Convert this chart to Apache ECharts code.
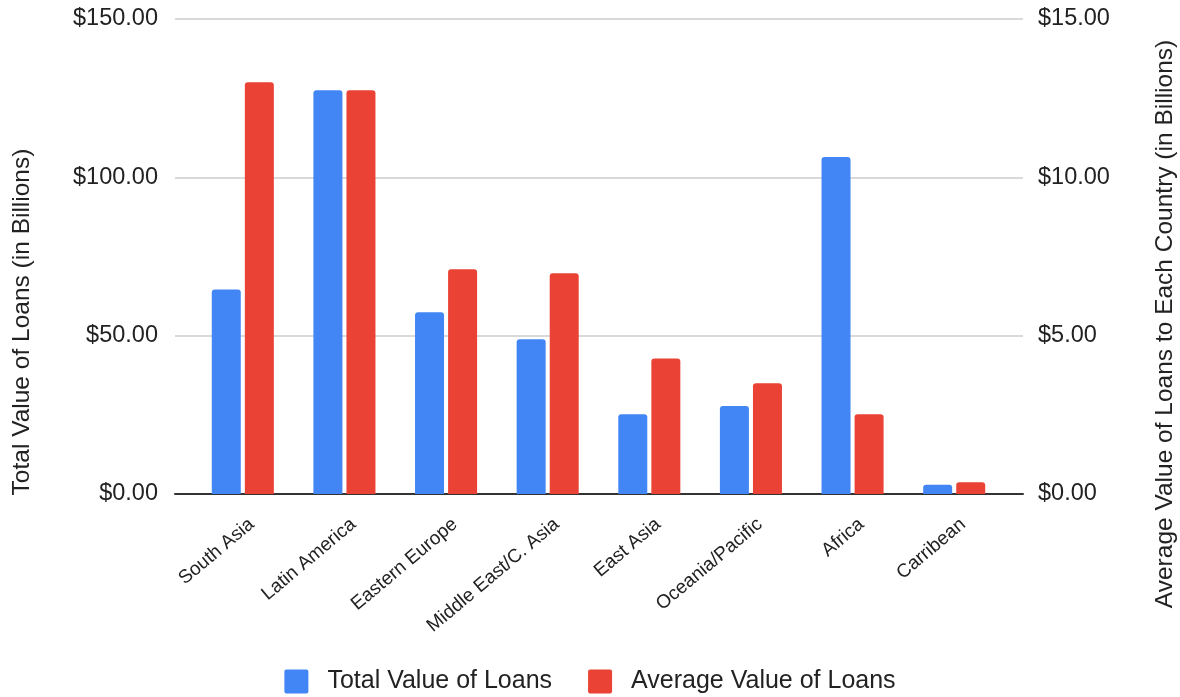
<!DOCTYPE html>
<html>
<head>
<meta charset="utf-8">
<script src="https://cdn.jsdelivr.net/npm/echarts@6/dist/echarts.min.js"></script>
<style>
  html, body { margin: 0; padding: 0; background: #fff; }
  #chart { width: 1180px; height: 697px; }
</style>
</head>
<body>
<div id="chart"></div>
<script>
// Regions and loan values (billions of dollars)
const regions = ['South Asia', 'Latin America', 'Eastern Europe', 'Middle East/C. Asia',
                 'East Asia', 'Oceania/Pacific', 'Africa', 'Carribean'];
const totalValue = [64.6, 127.5, 57.4, 48.9, 25.2, 27.8, 106.4, 2.9];
const averageValue = [13.0, 12.75, 7.1, 6.97, 4.28, 3.5, 2.52, 0.37];

const leftTicks = { min: 0, max: 150, interval: 50 };
const rightTicks = { min: 0, max: 15, interval: 5 };

const FONT = "'Liberation Sans', Arial, sans-serif";
const BLUE = '#4285F4';
const RED = '#EA4335';
const money = v => '$' + Number(v).toFixed(2);
// square legend swatch with slightly softened corners
const SWATCH = 'path://M2,0H22A2,2 0 0 1 24,2V22A2,2 0 0 1 22,24H2A2,2 0 0 1 0,22V2A2,2 0 0 1 2,0Z';

const TOP = 19, BOTTOM = 203;

const chart = echarts.init(document.getElementById('chart'));
chart.setOption({
  animation: false,
  textStyle: { fontFamily: FONT },
  grid: [
    // frame: gridlines, value labels, baseline
    { left: 175, right: 157, top: TOP, bottom: BOTTOM, containLabel: false },
    // bars
    { left: 192, right: 175, top: TOP, bottom: BOTTOM, containLabel: false },
    // category labels
    { left: 201, right: 166, top: TOP, bottom: BOTTOM, containLabel: false }
  ],
  legend: {
    top: 664,
    left: 'center',
    itemWidth: 24,
    itemHeight: 24,
    itemGap: 36,
    icon: SWATCH,
    textStyle: { fontSize: 25, color: '#222', padding: [0, 0, 0, 14], fontFamily: FONT },
    data: ['Total Value of Loans', 'Average Value of Loans']
  },
  xAxis: [
    { gridIndex: 0, type: 'value', min: 0, max: 1, show: true,
      axisLine: { show: true, onZero: false, lineStyle: { color: '#333', width: 2 } },
      axisTick: { show: false }, axisLabel: { show: false }, splitLine: { show: false } },
    { gridIndex: 1, type: 'category', data: regions,
      axisLine: { show: false }, axisTick: { show: false }, axisLabel: { show: false } },
    { gridIndex: 2, type: 'category', data: regions,
      axisLine: { show: false }, axisTick: { show: false },
      axisLabel: { show: true, interval: 0, rotate: 40, margin: 28, fontSize: 19, color: '#222', fontFamily: FONT } }
  ],
  yAxis: [
    { gridIndex: 0, type: 'value', position: 'left', ...leftTicks,
      axisLine: { show: false }, axisTick: { show: false },
      axisLabel: { formatter: money, fontSize: 23.5, color: '#222', margin: 17, fontFamily: FONT },
      splitLine: { show: true, lineStyle: { color: '#cccccc', width: 1.5 } } },
    { gridIndex: 0, type: 'value', position: 'right', ...rightTicks,
      axisLine: { show: false }, axisTick: { show: false },
      axisLabel: { formatter: money, fontSize: 23.5, color: '#222', margin: 15, fontFamily: FONT },
      splitLine: { show: false } },
    { gridIndex: 1, type: 'value', ...leftTicks, show: false },
    { gridIndex: 1, type: 'value', ...rightTicks, show: false },
    { gridIndex: 2, type: 'value', ...leftTicks, show: false }
  ],
  series: [
    { name: 'Total Value of Loans', type: 'bar', xAxisIndex: 1, yAxisIndex: 2,
      data: totalValue, barWidth: 29, barGap: '14%',
      itemStyle: { color: BLUE, borderRadius: [3, 3, 0, 0] } },
    { name: 'Average Value of Loans', type: 'bar', xAxisIndex: 1, yAxisIndex: 3,
      data: averageValue, barWidth: 29, barGap: '14%',
      itemStyle: { color: RED, borderRadius: [3, 3, 0, 0] } }
  ],
  graphic: [
    { type: 'text', x: 22, y: 322, rotation: Math.PI / 2,
      style: { text: 'Total Value of Loans (in Billions)', font: '24.5px ' + FONT,
               fill: '#222', align: 'center', verticalAlign: 'middle' } },
    { type: 'text', x: 1165, y: 324, rotation: Math.PI / 2,
      style: { text: 'Average Value of Loans to Each Country (in Billions)', font: '24.5px ' + FONT,
               fill: '#222', align: 'center', verticalAlign: 'middle' } }
  ]
});
</script>
</body>
</html>
